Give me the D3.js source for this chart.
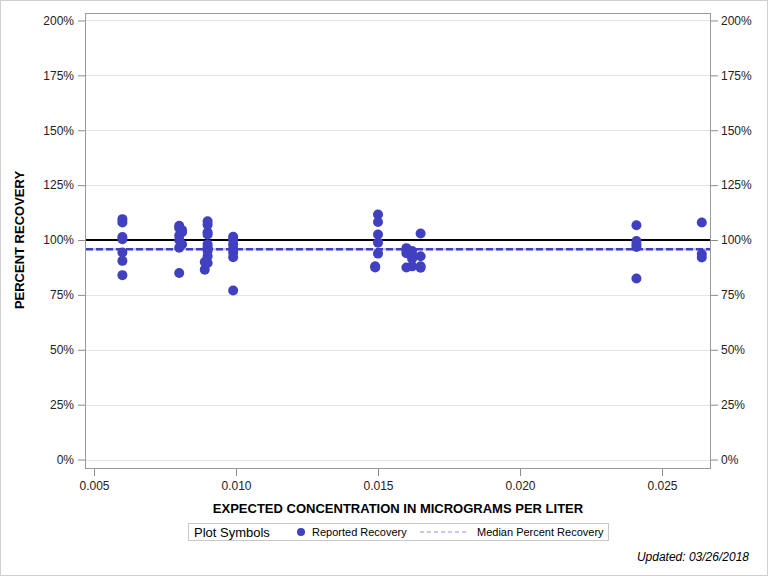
<!DOCTYPE html>
<html><head><meta charset="utf-8">
<script src="https://cdn.jsdelivr.net/npm/d3@7"></script>
<style>body{margin:0;background:#fff}svg{display:block}text{font-family:"Liberation Sans",Arial,sans-serif}</style>
</head><body><svg id="c" width="768" height="576"></svg>
<script>
// Data (expected concentration µg/L, percent recovery)
const concentrations = [
  0.006,0.006,0.006,0.006,0.006,0.006,0.006,
  0.008,0.008,0.0081,0.0081,0.008,0.008,0.0081,0.008,0.008,
  0.009,0.009,0.009,0.009,0.009,0.009,0.009,0.009,0.009,0.0089,0.0089,
  0.0099,0.0099,0.0099,0.0099,0.0099,0.0099,0.0099,
  0.015,0.015,0.015,0.015,0.015,0.0149,0.0149,
  0.016,0.016,0.016,0.016,
  0.0162,0.0162,0.0162,0.0162,
  0.0165,0.0165,0.0165,0.0165,
  0.0241,0.0241,0.0241,0.0241,0.0241,
  0.0264,0.0264,0.0264
];
const recoveries = [
  109.5,108,101.4,100.4,94.3,90.5,84,
  106.5,105.5,104.5,103.5,102,100,98,96.5,85,
  108.5,107,103.5,102.5,98,96.7,95,92.6,89.5,90,86.5,
  101.5,100.2,98,96,94.3,92.2,77,
  111.6,108.2,102.5,98.8,93.8,88,87.5,
  96.3,95.3,94,87.5,
  95,93,91.5,88,
  103,92.6,88,87.4,
  106.7,99.5,98,96.8,82.5,
  108,93.6,92
];
const medianRecovery = 95.8;
const referenceRecovery = 100;
const yTicks = [0,25,50,75,100,125,150,175,200];
const xTicks = [0.005,0.010,0.015,0.020,0.025];

const svg = d3.select("#c");
const L=85, R=711, T=13, B=469;
const x = d3.scaleLinear().domain([0.004683,0.026725]).range([L,R]);
const y = d3.scaleLinear().domain([-4.3,203.4]).range([B,T]);

svg.append("rect").attr("x",0.5).attr("y",0.5).attr("width",767).attr("height",575)
  .attr("fill","#fff").attr("stroke","#d0d0d0");

// gridlines
svg.append("g").selectAll("line").data(yTicks).join("line")
  .attr("x1",L).attr("x2",R).attr("y1",d=>Math.round(y(d))+0.5).attr("y2",d=>Math.round(y(d))+0.5)
  .attr("stroke","#e4e4e4");

const fmtPct = d=>d+"%";
const gl = svg.append("g").attr("transform",`translate(${L},0)`)
  .call(d3.axisLeft(y).tickValues(yTicks).tickFormat(fmtPct).tickSize(7).tickPadding(4));
const gr = svg.append("g").attr("transform",`translate(${R},0)`)
  .call(d3.axisRight(y).tickValues(yTicks).tickFormat(fmtPct).tickSize(7).tickPadding(3));
const gb = svg.append("g").attr("transform",`translate(0,${B})`)
  .call(d3.axisBottom(x).tickValues(xTicks).tickFormat(d3.format(".3f")).tickSize(7).tickPadding(5));
[gl,gr,gb].forEach(g=>{
  g.select(".domain").remove();
  g.selectAll(".tick line").attr("stroke","#8c8c8c");
  g.selectAll(".tick text").attr("fill","#222").style("font-size","12px").style("font-family","'Liberation Sans',Arial,sans-serif");
});

// frame
svg.append("rect").attr("x",L+0.5).attr("y",T+0.5).attr("width",R-L-1).attr("height",B-T-1)
  .attr("fill","none").attr("stroke","#9a9a9a");

// reference line
svg.append("line").attr("x1",L+1).attr("x2",R-1).attr("y1",y(referenceRecovery)).attr("y2",y(referenceRecovery))
  .attr("stroke","#000").attr("stroke-width",2);

// median line
svg.append("line").attr("x1",L+1).attr("x2",R-1).attr("y1",y(medianRecovery)).attr("y2",y(medianRecovery))
  .attr("stroke","#b8b8ec").attr("stroke-width",2);
svg.append("line").attr("x1",L+1).attr("x2",R-1).attr("y1",y(medianRecovery)).attr("y2",y(medianRecovery))
  .attr("stroke","#3f3fbf").attr("stroke-width",2.5).attr("stroke-dasharray","7,3");

// points
const pts = concentrations.map((c,i)=>({c, r:recoveries[i]}));
svg.append("g").selectAll("circle").data(pts).join("circle")
  .attr("cx",d=>x(d.c)).attr("cy",d=>y(d.r)).attr("r",5).attr("fill","#4040c0");

// axis labels
svg.append("text").attr("x",(L+R)/2).attr("y",513).attr("text-anchor","middle")
  .style("font-size","13px").style("font-weight","bold").attr("fill","#000")
  .text("EXPECTED CONCENTRATION IN MICROGRAMS PER LITER");
svg.append("text").attr("transform",`translate(24,${(T+B)/2-1}) rotate(-90)`).attr("text-anchor","middle")
  .style("font-size","13px").style("font-weight","bold").attr("fill","#000")
  .text("PERCENT RECOVERY");

// legend
const lg = svg.append("g");
lg.append("rect").attr("x",188.5).attr("y",523.5).attr("width",420).attr("height",17)
  .attr("fill","#fff").attr("stroke","#c8c8c8");
lg.append("text").attr("x",194).attr("y",537).style("font-size","13px").attr("fill","#000").text("Plot Symbols");
lg.append("circle").attr("cx",301).attr("cy",532).attr("r",4).attr("fill","#4040c0");
lg.append("text").attr("x",312).attr("y",536).style("font-size","11px").attr("fill","#000").text("Reported Recovery");
lg.append("line").attr("x1",420).attr("x2",466).attr("y1",532).attr("y2",532)
  .attr("stroke","#8f8fe0").attr("stroke-width",1).attr("stroke-dasharray","4,3");
lg.append("text").attr("x",477).attr("y",536).style("font-size","11px").attr("fill","#000").text("Median Percent Recovery");

svg.append("text").attr("x",749).attr("y",561).attr("text-anchor","end")
  .style("font-size","12px").style("font-style","italic").attr("fill","#000").text("Updated: 03/26/2018");
</script></body></html>
